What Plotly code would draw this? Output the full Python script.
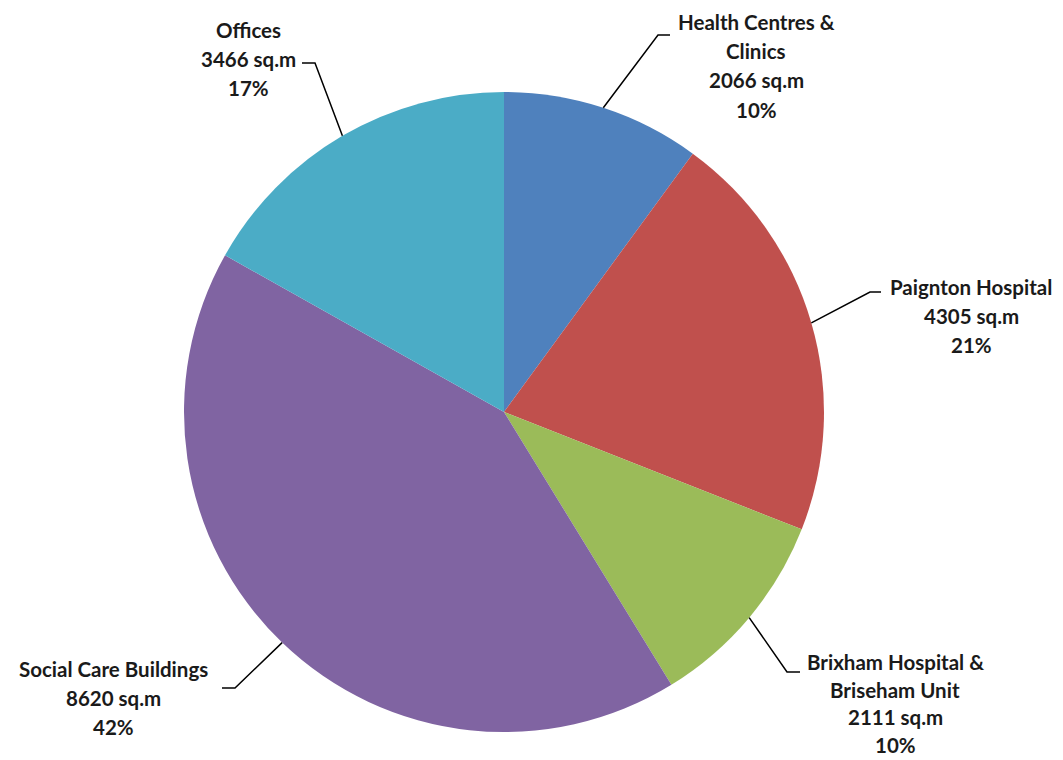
import math
import plotly.graph_objects as go

# ---- data ----
categories = ["Health Centres & Clinics", "Paignton Hospital",
              "Brixham Hospital & Briseham Unit", "Social Care Buildings", "Offices"]
name_lines = [["Health Centres &", "Clinics"], ["Paignton Hospital"],
              ["Brixham Hospital &", "Briseham Unit"], ["Social Care Buildings"], ["Offices"]]
areas = [2066, 4305, 2111, 8620, 3466]
unit = "sq.m"
colors = ["#4F81BD", "#C0504D", "#9BBB59", "#8064A2", "#4BACC6"]

# ---- layout (pixels) ----
W, H = 1063, 760
CX, CY, R = 504, 412, 320
label_first_line = [(756, 22), (971, 287), (895, 662), (113, 669), (248, 30)]
line_steps = [29.2, 29.2, 27.6, 29.2, 29.2]
elbows = [(658, 35, 670), (870, 292, 881), (787, 672, 800), (235, 688, 222), (315, 63, 302)]
FONT = dict(family="Lato, Carlito, Arial", size=20.5, color="#1a1a1a")


def px(x):
    return x / W


def py(y):
    return 1 - y / H


total = sum(areas)
fig = go.Figure(go.Pie(
    labels=categories, values=areas, sort=False, direction="clockwise", rotation=0,
    marker=dict(colors=colors, line=dict(width=0)), textinfo="none",
    hovertemplate="%{label}<br>%{value} sq.m<br>%{percent}<extra></extra>",
    domain=dict(x=[px(CX - R), px(CX + R)], y=[py(CY + R), py(CY - R)]),
    showlegend=False,
))

annotations = []
shapes = []
cum = 0
for i, v in enumerate(areas):
    mid = (cum + v / 2) / total * 2 * math.pi
    cum += v
    ex = CX + R * math.sin(mid)
    ey = CY - R * math.cos(mid)
    bx, by, hx = elbows[i]
    shapes.append(dict(type="path", xref="paper", yref="paper",
                       path=f"M {px(ex)},{py(ey)} L {px(bx)},{py(by)} L {px(hx)},{py(by)}",
                       line=dict(color="black", width=1.5)))
    pct = round(v / total * 100)
    lines = name_lines[i] + [f"{v} {unit}", f"{pct}%"]
    lx, ly = label_first_line[i]
    for k, t in enumerate(lines):
        annotations.append(dict(text=f"<b>{t}</b>", x=px(lx), y=py(ly + k * line_steps[i]),
                                xref="paper", yref="paper", showarrow=False,
                                xanchor="center", yanchor="middle", borderpad=0,
                                font=FONT))

fig.update_layout(width=W, height=H, margin=dict(l=0, r=0, t=0, b=0),
                  paper_bgcolor="white", plot_bgcolor="white",
                  annotations=annotations, shapes=shapes)
fig.write_html("out.html")
